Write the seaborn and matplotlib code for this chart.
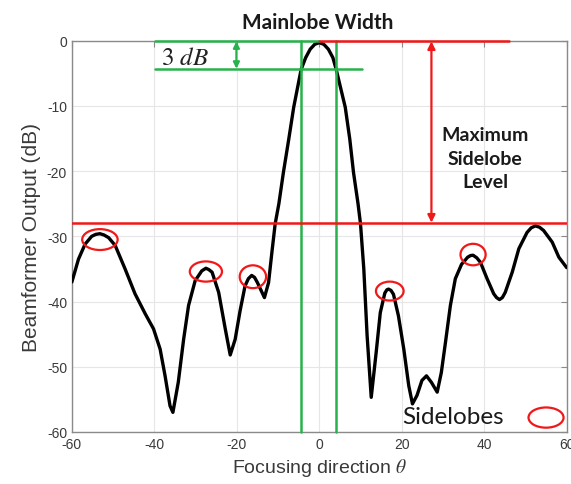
import matplotlib
matplotlib.use("Agg")
import matplotlib.pyplot as plt
import seaborn as sns
import pandas as pd
from matplotlib.patches import Ellipse

# ---- data ----
theta = [-60, -58.4, -56.8, -55.2, -54.2, -53.2, -52.2, -51.1, -49.5, -47.1,
         -44.7, -42.2, -40.2, -38.6, -37.4, -36.2, -35.5, -34.2, -32.9, -31.7,
         -30.1, -28.5, -27.5, -26.8, -26.0, -24.4, -22.8, -21.6, -20.4, -19.2,
         -18.0, -17.2, -16.4, -15.7, -15.0, -13.3, -12.3, -11.5, -10.7, -9.8,
         -8.7, -7.4, -6.2, -4.4, -3.3, -2.2, -1.1, 0, 1.1, 2.2,
         3.3, 4.1, 6.3, 7.4, 8.3, 9.4, 10.0, 10.8, 11.6, 12.6,
         13.8, 14.8, 15.9, 16.4, 16.8, 17.4, 18.0, 19.2, 20.5, 21.7,
         22.6, 23.7, 24.9, 26.0, 27.2, 28.6, 29.6, 30.6, 31.8, 33.0,
         34.5, 36.0, 36.7, 37.3, 38.2, 39.1, 40.7, 42.3, 43.0, 43.7,
         44.4, 45.1, 46.8, 48.4, 50.4, 51.4, 52.4, 53.4, 54.4, 56.5,
         58.1, 60]
output_db = [-37.0, -33.5, -31.2, -30.0, -29.7, -29.6, -29.8, -30.2, -31.4, -35.0,
             -38.8, -41.9, -44.2, -47.3, -51.4, -56.0, -57.0, -52.4, -45.8, -40.6,
             -36.8, -35.3, -34.9, -35.1, -35.5, -38.6, -44.2, -48.2, -45.8, -41.4,
             -37.6, -36.5, -36.0, -36.3, -37.1, -39.4, -37.1, -32.5, -28.1, -25.0,
             -20.2, -15.1, -10.2, -4.4, -2.6, -1.3, -0.55, -0.3, -0.55, -1.3,
             -2.6, -4.4, -10.2, -15.1, -20.2, -25.0, -28.1, -35.0, -45.2, -54.7,
             -47.8, -41.7, -38.7, -38.2, -38.1, -38.3, -38.9, -42.2, -47.3, -52.9,
             -55.7, -54.4, -52.1, -51.4, -52.4, -53.9, -50.9, -46.3, -40.6, -36.5,
             -34.3, -33.2, -32.95, -32.9, -33.3, -34.0, -36.5, -38.8, -39.4, -39.7,
             -39.4, -38.6, -35.5, -31.9, -29.4, -28.7, -28.4, -28.6, -29.1, -30.9,
             -33.2, -34.8]

x_ticks = [-60, -40, -20, 0, 20, 40, 60]
y_ticks = [-60, -50, -40, -30, -20, -10, 0]

max_sidelobe_level = -28.0
threshold_level = -4.4
mainlobe_edges = [-4.4, 4.1]
sidelobe_x = [-53.2, -27.5, -16.1, 17.1, 37.3]
sidelobe_y = [-30.5, -35.4, -36.2, -38.4, -32.8]
sidelobe_w = [8.6, 7.8, 6.4, 6.7, 6.1]
sidelobe_h = [3.2, 3.1, 3.5, 2.9, 3.3]

GREEN = "#27b34b"
RED = "#f01818"

sns.set_style("white")
plt.rcParams["font.family"] = ["Liberation Sans", "DejaVu Sans"]
plt.rcParams["mathtext.fontset"] = "stix"
plt.rcParams["axes.unicode_minus"] = False

fig = plt.figure(figsize=(5.71, 4.85), dpi=100)
ax = fig.add_axes([0.1259, 0.1074, 0.8665, 0.8066])

df = pd.DataFrame({"theta": theta, "db": output_db})
sns.lineplot(data=df, x="theta", y="db", sort=False, color="black", lw=2.4,
             ax=ax, zorder=5)

ax.set_xlim(-60, 60)
ax.set_ylim(-60, 0)
ax.set_xticks(x_ticks)
ax.set_yticks(y_ticks)
ax.grid(True, color="#e6e6e6", lw=0.8)
for s in ax.spines.values():
    s.set_color("#8a8a8a")
    s.set_linewidth(1.0)
ax.tick_params(direction="in", length=4, width=0.8, color="#8a8a8a",
               top=True, right=True, labelsize=10, labelcolor="#3a3a3a")
ax.set_xlabel(r"Focusing direction $\theta$", fontsize=14, color="#3a3a3a",
              labelpad=4)
ax.set_ylabel("Beamformer Output (dB)", fontsize=15, color="#3a3a3a",
              labelpad=4)

# green mainlobe markers
ax.plot([-39.8, 0], [0, 0], color=GREEN, lw=1.8, clip_on=False, zorder=6)
ax.plot([-39.8, 10.4], [threshold_level, threshold_level], color=GREEN, lw=1.8, zorder=6)
for xe in mainlobe_edges:
    ax.plot([xe, xe], [0, -60], color=GREEN, lw=1.8, clip_on=False, zorder=6)
ax.annotate("", xy=(-20.1, -0.1), xytext=(-20.1, threshold_level + 0.1),
            arrowprops=dict(arrowstyle="<|-|>", color=GREEN, lw=1.6,
                            mutation_scale=9, shrinkA=0, shrinkB=0), zorder=7)
ax.text(-32.5, -2.5, r"$3\ dB$", fontsize=18, ha="center", va="center",
        color="#222222")

# red max sidelobe markers
ax.plot([0, 45.9], [0, 0], color=RED, lw=1.8, clip_on=False, zorder=6)
ax.plot([-60, 60], [max_sidelobe_level, max_sidelobe_level], color=RED, lw=1.8,
        zorder=6)
ax.annotate("", xy=(27.2, -0.1), xytext=(27.2, max_sidelobe_level + 0.1),
            arrowprops=dict(arrowstyle="<|-|>", color=RED, lw=1.6,
                            mutation_scale=11, shrinkA=0, shrinkB=0), zorder=7)

# sidelobe ellipses
for cx, cy, w, h in zip(sidelobe_x, sidelobe_y, sidelobe_w, sidelobe_h):
    ax.add_patch(Ellipse((cx, cy), w, h, fill=False, ec=RED, lw=1.6, zorder=8))
ax.add_patch(Ellipse((55.0, -57.8), 8.5, 3.1, fill=False, ec=RED, lw=1.6, zorder=8))
ax.text(20.2, -57.6, "Sidelobes", fontsize=17.5, family="Lato", ha="left",
        va="center", color="#1a1a1a")

ax.text(40.3, -18.0, "Maximum\nSidelobe\nLevel", fontsize=14, family="Lato",
        fontweight="bold", ha="center", va="center", linespacing=1.45,
        color="#1a1a1a")
fig.text(0.557, 0.952, "Mainlobe Width", fontsize=15, family="Lato",
         fontweight="bold", ha="center", va="center", color="#1a1a1a")

fig.savefig("out.png", dpi=100)
